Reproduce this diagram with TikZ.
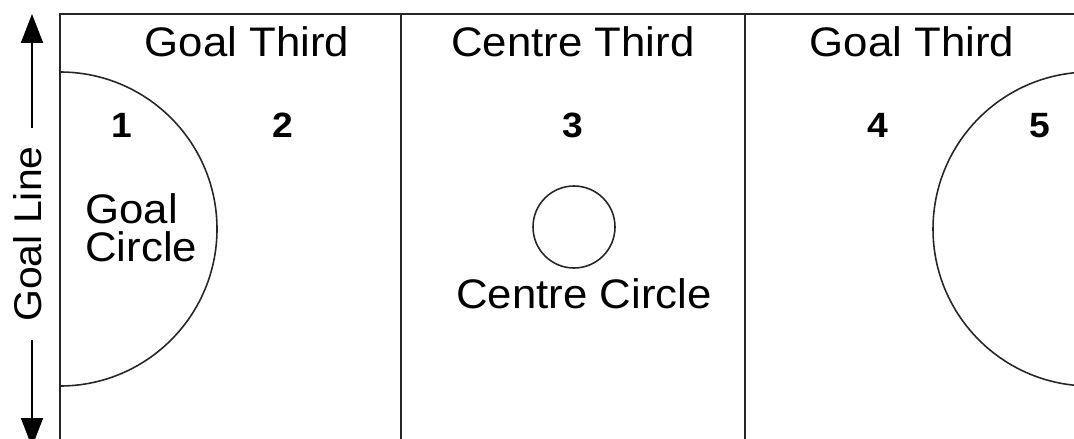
\documentclass[tikz,border=0pt]{standalone}
\usepackage{fontspec}
\setmainfont[FakeStretch=1.06]{Liberation Sans}
\usepackage{tikz}
\usetikzlibrary{arrows.meta, positioning, calc}

\tikzset{
  courtline/.style={line width=1.2pt, black!85},
  markline/.style={line width=0.9pt, black!85},
  thirdlabel/.style={font=\fontsize{23.5}{27}\selectfont, inner sep=0pt, anchor=base},
  zonelabel/.style={font=\fontsize{20}{24}\selectfont\bfseries, inner sep=0pt, anchor=base},
}

\begin{document}
\begin{tikzpicture}[x=0.02cm, y=-0.02cm]
  % Picture frame
  \useasboundingbox (0,0) rectangle (1074,439);
  \clip (0,0) rectangle (1074,439);

  % Court corners and third lines
  \coordinate (TL) at (60,14);
  \coordinate (BL) at (60,439);
  \coordinate (TR) at (1074,14);
  \coordinate (T1) at (401,14);
  \coordinate (B1) at (401,439);
  \coordinate (T2) at (745,14);
  \coordinate (B2) at (745,439);

  % Draw court
  \draw[courtline] (BL) -- (TL) -- (TR);
  \draw[courtline] (T1) -- (B1);
  \draw[courtline] (T2) -- (B2);

  % Goal circles (centres on the goal lines)
  \coordinate (GL) at (60,229);
  \coordinate (GR) at (1090,229);
  \begin{scope}
    \clip (60,0) rectangle (1074,439);
    \draw[markline] (GL) circle[radius=157];
  \end{scope}
  \draw[markline] (GR) circle[radius=157];

  % Centre circle
  \coordinate (CC) at (574,227);
  \draw[markline] (CC) circle[radius=41];

  % Third labels
  \node[thirdlabel] (third1) at (247,57) {Goal Third};
  \node[thirdlabel] (third2) at (573,57) {Centre Third};
  \node[thirdlabel] (third3) at (912,57) {Goal Third};

  % Zone numbers
  \node[zonelabel] (z1) at (122,137) {1};
  \node[zonelabel] (z2) at (283,137) {2};
  \node[zonelabel] (z3) at (573,137) {3};
  \node[zonelabel] (z4) at (878,137) {4};
  \node[zonelabel] (z5) at (1040,137) {5};

  % Circle labels
  \node[font=\fontsize{23.5}{22}\selectfont, inner sep=0pt, anchor=north west, align=left]
    (goalcircle) at (85,193) {Goal\\Circle};
  \node[thirdlabel] (centrecircle) at (584,308) {Centre Circle};

  % Goal line arrow
  \node[font=\fontsize{22}{26}\selectfont, rotate=90, inner xsep=0.36cm, inner ysep=0pt]
    (goalline) at (28,234) {Goal Line};
  \coordinate (arrtop) at (32,14);
  \coordinate (arrbot) at (32,447);
  \draw[line width=1pt, -{Triangle[length=0.58cm, width=0.44cm]}]
    (arrtop |- goalline.east) -- (arrtop);
  \draw[line width=1pt, -{Triangle[length=0.58cm, width=0.44cm]}]
    (arrbot |- goalline.west) -- (arrbot);
\end{tikzpicture}
\end{document}
